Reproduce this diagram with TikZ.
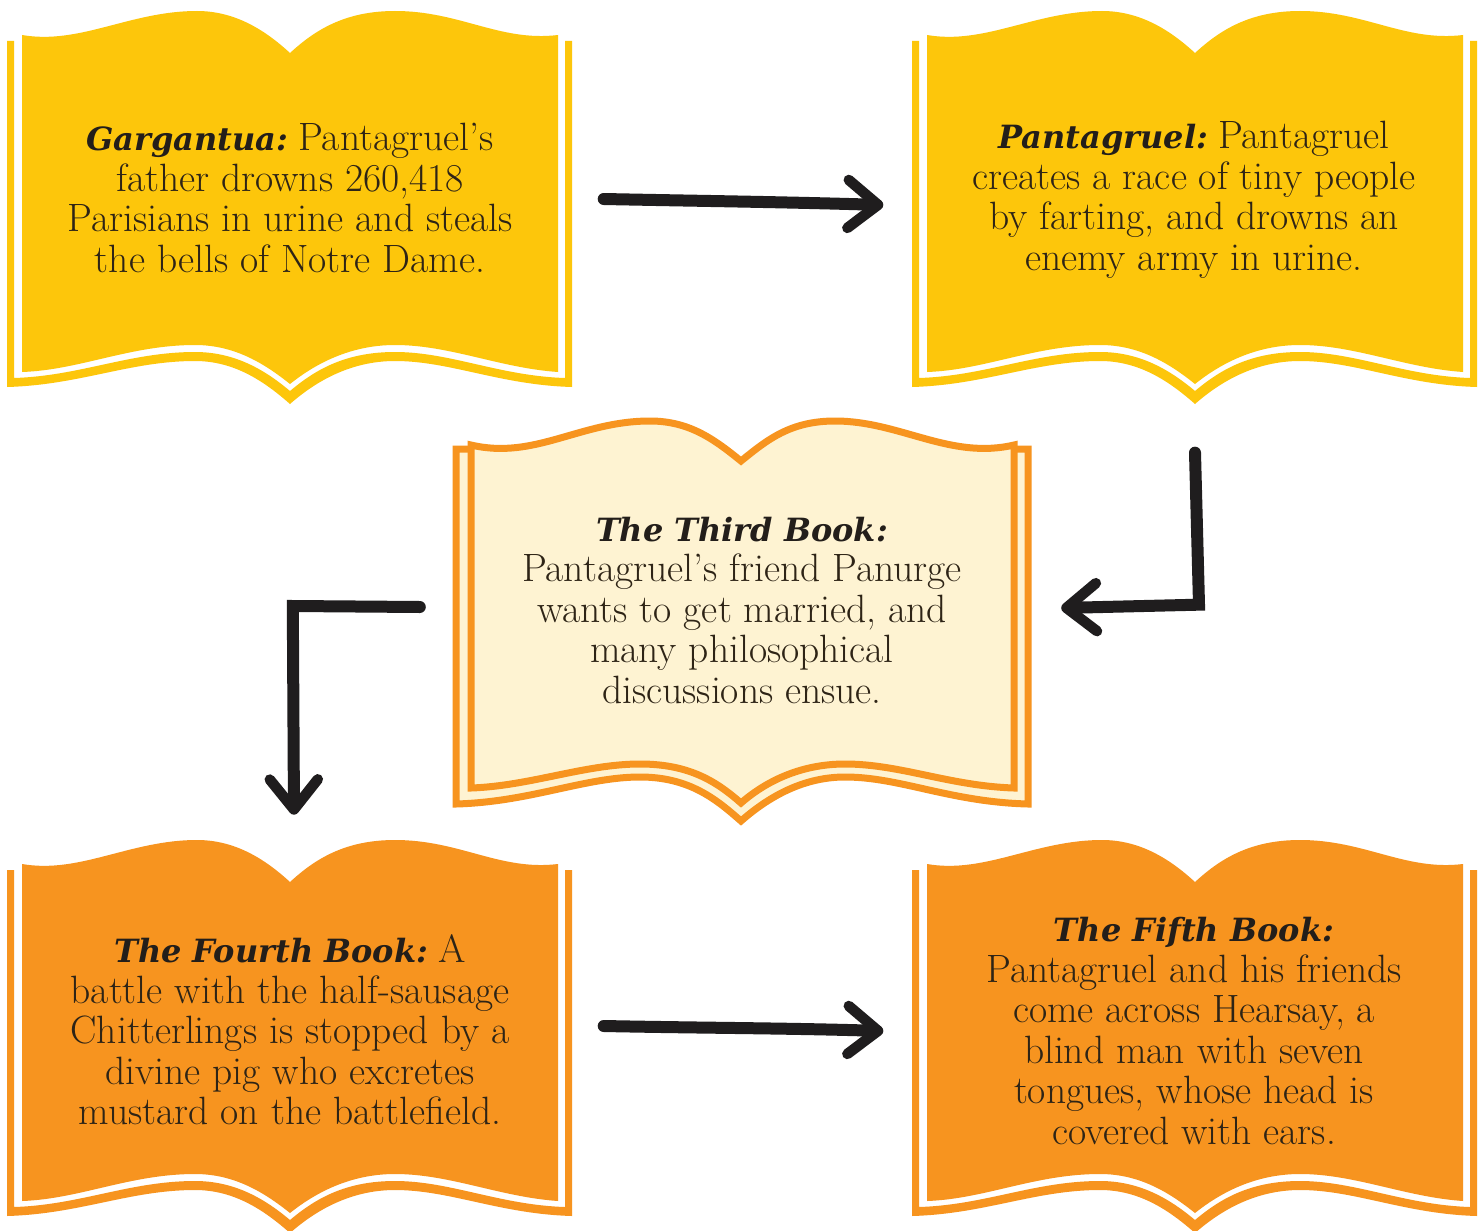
\documentclass[tikz,border=0pt]{standalone}
\usepackage{fontspec}
\usetikzlibrary{calc,arrows.meta}
\newfontfamily\headfont{DejaVu Serif}
\definecolor{bookyellow}{HTML}{FDC60B}
\definecolor{bookorange}{HTML}{F7941F}
\definecolor{bookcream}{HTML}{FEF3D2}
\definecolor{inkdark}{HTML}{1F1D1E}
\definecolor{textdark}{HTML}{2E2416}
\definecolor{headdark}{HTML}{231E1A}
\newcommand{\bh}[1]{{\headfont\bfseries\itshape\color{headdark}\fontsize{32}{40.5}\selectfont #1}}
\newcommand{\thirdback}{(456,449) -- (456,804)
  .. controls (530,802) and (585,777) .. (640,777) .. controls (690,777) and (717,800) .. (741,821)
  .. controls (765,800) and (800,777) .. (845,777) .. controls (900,777) and (950,802) .. (1028,804) -- (1028,449)}
\tikzset{
  pics/filledbook/.style={code={
    \fill[#1] (7,41) -- (14,41) -- (14,378) .. controls (80,376) and (130,352) .. (195,352)
      .. controls (235,352) and (265,370) .. (290,391) .. controls (315,370) and (345,352) .. (395,352)
      .. controls (450,352) and (500,376) .. (565,378) -- (565,41) -- (572,41) -- (572,387)
      .. controls (500,385) and (450,361) .. (395,361) .. controls (350,361) and (315,382) .. (290,404)
      .. controls (265,382) and (235,361) .. (195,361) .. controls (130,361) and (80,385) .. (7,387) -- cycle;
    \fill[#1] (22,35) .. controls (80,45) and (130,11) .. (197,11)
      .. controls (235,11) and (265,30) .. (290,53) .. controls (315,30) and (345,11) .. (395,11)
      .. controls (460,11) and (500,42) .. (558,35) -- (558,372)
      .. controls (500,368) and (450,345) .. (395,345) .. controls (350,345) and (315,364) .. (290,384)
      .. controls (265,364) and (235,345) .. (195,345) .. controls (130,345) and (80,370) .. (22,372) -- cycle;
  }},
  bookline/.style={draw=bookorange,line width=7pt,line join=miter},
  booktext/.style={align=center,text=textdark,minimum height=60pt,inner sep=0pt,font=\fontsize{39.5}{40.5}\selectfont},
  leftbook/.style={booktext,minimum width=565pt},
  thirdbook/.style={booktext,minimum width=578pt},
  conn/.style={draw=inkdark,line width=12pt,line cap=round,miter limit=10,
    -{Straight Barb[length=30pt,width=48pt,line width=10.5pt,round]}},
}
\begin{document}
\begin{tikzpicture}[x=1pt,y=-1pt]
\useasboundingbox (0,0) rectangle (1483,1231);
\fill[white] (0,0) rectangle (1483,1231);
\pic at (0,0) {filledbook=bookyellow};
\pic at (905,0) {filledbook=bookyellow};
\pic at (0,829) {filledbook=bookorange};
\pic at (905,829) {filledbook=bookorange};
% third book
\fill[bookcream] \thirdback -- (741,490) -- cycle;
\draw[bookline] (472,449) -- \thirdback -- (1012,449);
\path[bookline,fill=bookcream] (471,445) .. controls (535,460) and (580,421) .. (650,421)
  .. controls (690,421) and (715,440) .. (741,461) .. controls (767,440) and (790,421) .. (835,421)
  .. controls (900,421) and (950,460) .. (1014,445) -- (1014,788)
  .. controls (950,786) and (900,764) .. (845,764) .. controls (800,764) and (765,782) .. (741,803)
  .. controls (717,782) and (690,764) .. (640,764) .. controls (585,764) and (530,786) .. (471,788) -- cycle;
% text
\node[leftbook] (b1) at (290,198) {\bh{Gargantua:}\kern-6pt{} Pantagruel’s\\father drowns 260,418\\Parisians in urine and steals\\the bells of Notre Dame.};
\node[leftbook] (b2) at (1194,200) {\bh{Pantagruel:}\kern-6pt{} Pantagruel\\creates a race of tiny people\\by farting, and drowns an\\enemy army in urine.};
\node[thirdbook] (b3) at (742,610) {\bh{The Third Book:}\\Pantagruel’s friend Panurge\\wants to get married, and\\many philosophical\\discussions ensue.};
\node[leftbook] (b4) at (290,1030) {\bh{The Fourth Book:}\kern-6pt{} A\\battle with the half-sausage\\Chitterlings is stopped by a\\divine pig who excretes\\mustard on the battlefield.};
\node[leftbook] (b5) at (1194,1031) {\bh{The Fifth Book:}\\Pantagruel and his friends\\come across Hearsay, a\\blind man with seven\\tongues, whose head is\\covered with ears.};
% connectors
\draw[conn] ($(b1.east)+(31,1)$) .. controls +(100,2) and +(-100,-3) .. ($(b2.west)+(-28,5)$);
\draw[conn] ($(b2.south)+(1,174)$) -- ($(b2.south)+(5,326)$) -- ($(b3.east)+(30,-2)$);
\draw[conn] ($(b3.west)+(-33,-3)$) -- ($(b3.west)+(-160,-4)$) -- ($(b4.north)+(4,-120)$);
\draw[conn] ($(b4.east)+(31,-4)$) .. controls +(100,2) and +(-100,-3) .. ($(b5.west)+(-28,0)$);
\end{tikzpicture}
\end{document}
